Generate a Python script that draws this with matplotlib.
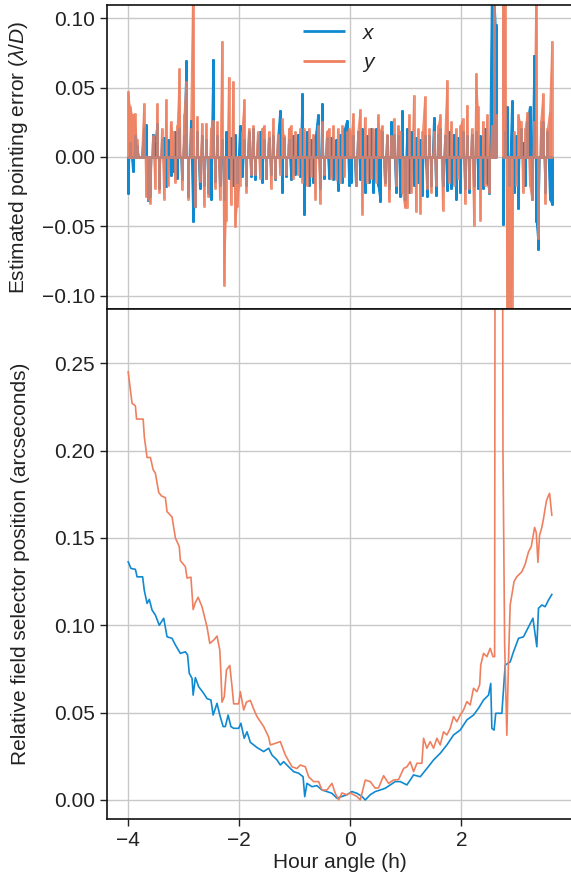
"""Pointing error and field selector position versus hour angle."""

import matplotlib

matplotlib.use("Agg")
import matplotlib.pyplot as plt
import numpy as np

BLUE = "#1089d0"
ORANGE = "#ee8060"

# top panel: estimated pointing error (lambda/D), evenly sampled in hour angle
err_x = [
    -0.026, 0.010, -0.010, 0.015, 0.008, 0.0, 0.0, 0.020, 0.023, -0.031,
    -0.028, 0.016, 0.010, 0.024, -0.022, 0.012, 0.014, -0.021, 0.012, -0.013,
    -0.010, 0.018, -0.015, 0.020, -0.016, 0.015, 0.069, -0.028, 0.026, -0.046,
    -0.035, 0.018, -0.022, 0.015, -0.020, 0.012, -0.025, -0.030, 0.070, -0.017,
    0.015, -0.020, 0.012, -0.030, 0.018, -0.015, 0.014, -0.020, 0.016, -0.018,
    0.022, -0.014, 0.012, -0.020, 0.018, -0.014, 0.020, -0.016, 0.012, 0.018,
    -0.018, 0.012, -0.015, 0.014, -0.012, 0.015, -0.016, 0.012, 0.033, -0.025,
    0.014, -0.014, 0.012, -0.016, 0.015, -0.012, 0.016, -0.014, 0.045, -0.041,
    0.018, -0.020, 0.012, -0.018, 0.015, 0.030, -0.022, 0.038, -0.015, 0.014,
    -0.015, 0.014, -0.016, 0.012, -0.024, 0.016, -0.018, 0.020, 0.026, -0.020,
    -0.018, 0.015, -0.020, 0.018, -0.016, 0.020, -0.025, 0.015, -0.018, 0.020,
    -0.025, 0.020, -0.020, -0.032, 0.018, -0.018, 0.015, -0.022, 0.025, 0.016,
    -0.025, 0.015, -0.028, 0.033, -0.030, 0.020, -0.025, 0.018, -0.020, 0.014,
    -0.018, 0.012, -0.027, 0.015, -0.028, 0.015, -0.020, 0.028, -0.027, 0.016,
    0.020, -0.020, 0.015, -0.024, 0.018, -0.022, 0.016, -0.030, 0.014, -0.025,
    0.018, -0.022, 0.015, -0.025, 0.016, -0.020, 0.018, -0.022, 0.015, -0.022,
    0.020, -0.018, -0.026, 0.130, 0.130, 0.095, np.nan, np.nan, -0.048, 0.018,
    0.036, -0.020, 0.040, -0.025, 0.015, -0.037, 0.020, 0.010, -0.020, 0.025,
    0.036, -0.030, 0.073, -0.046, -0.066, 0.020, 0.025, -0.025, 0.018, -0.030,
    -0.034,
]
err_y = [
    0.047, 0.036, 0.030, 0.031, 0.012, 0.0, 0.0, 0.038, -0.028, -0.030,
    -0.033, 0.015, -0.022, 0.038, -0.025, 0.020, -0.030, 0.041, -0.020, 0.025,
    0.018, -0.018, 0.022, 0.063, -0.023, 0.030, 0.054, -0.030, 0.020, 0.130,
    -0.035, 0.029, -0.017, 0.024, -0.035, 0.024, -0.028, 0.020, 0.026, -0.022,
    0.025, -0.030, 0.083, -0.092, -0.045, 0.057, -0.034, 0.054, -0.050, -0.035,
    -0.020, 0.018, 0.041, -0.025, 0.020, -0.012, 0.022, -0.012, 0.018, -0.015,
    0.020, 0.022, -0.015, 0.018, -0.022, 0.027, -0.015, 0.016, -0.012, 0.027,
    0.015, -0.012, 0.020, 0.022, -0.015, 0.018, -0.012, 0.020, -0.018, 0.020,
    -0.020, 0.020, -0.014, 0.016, -0.030, 0.022, -0.033, 0.025, -0.012, 0.018,
    0.020, -0.015, 0.022, -0.016, 0.020, -0.018, 0.022, -0.014, 0.018, 0.020,
    0.015, 0.031, -0.020, 0.018, 0.034, -0.041, 0.028, -0.018, 0.020, -0.015,
    0.020, -0.018, 0.030, 0.018, 0.022, -0.020, 0.016, -0.032, 0.015, 0.027,
    -0.020, 0.022, 0.018, -0.025, -0.036, -0.036, 0.030, -0.025, 0.044, -0.039,
    0.020, -0.040, 0.018, 0.043, -0.022, 0.020, -0.025, 0.018, -0.020, 0.022,
    0.030, -0.038, 0.015, 0.055, -0.018, 0.025, -0.020, 0.020, -0.015, 0.022,
    0.027, -0.033, 0.037, -0.022, 0.020, -0.049, 0.060, 0.036, -0.045, 0.025,
    -0.020, 0.030, -0.025, 0.022, 0.130, 0.030, np.nan, np.nan, 0.130, 0.130,
    -0.130, -0.130, -0.130, 0.018, -0.020, 0.030, 0.025, -0.025, 0.020, 0.032,
    -0.020, -0.030, 0.025, 0.130, -0.058, 0.025, 0.045, -0.033, 0.020, 0.032,
    0.083,
]

# bottom panel: relative field selector position (arcsec)
ha_x = [
    -4.00, -3.95, -3.87, -3.84, -3.74, -3.71, -3.66, -3.62, -3.57, -3.51,
    -3.44, -3.36, -3.30, -3.21, -3.15, -3.06, -2.97, -2.93, -2.90, -2.85,
    -2.83, -2.79, -2.73, -2.64, -2.58, -2.51, -2.47, -2.40, -2.35, -2.29,
    -2.25, -2.20, -2.15, -2.10, -2.01, -1.97, -1.91, -1.86, -1.80, -1.68,
    -1.56, -1.47, -1.41, -1.32, -1.26, -1.20, -1.11, -1.02, -0.93, -0.85,
    -0.82, -0.78, -0.69, -0.60, -0.51, -0.42, -0.33, -0.24, -0.15, -0.06,
    0.03, 0.12, 0.21, 0.27, 0.36, 0.45, 0.54, 0.63, 0.72, 0.81,
    0.90, 1.02, 1.14, 1.26, 1.38, 1.50, 1.62, 1.74, 1.86, 1.98,
    2.10, 2.22, 2.31, 2.40, 2.49, 2.53, 2.55, 2.59, 2.62, 2.73,
    2.79, 2.88, 2.94, 3.03, 3.12, 3.21, 3.29, 3.36, 3.39, 3.45,
    3.51, 3.57, 3.63,
]
pos_x = [
    0.1363, 0.1325, 0.1320, 0.1277, 0.1277, 0.1200, 0.1125, 0.1148, 0.1087, 0.1058,
    0.1000, 0.1040, 0.0934, 0.0925, 0.0887, 0.0839, 0.0848, 0.0830, 0.0725, 0.0696,
    0.0600, 0.0700, 0.0648, 0.0610, 0.0580, 0.0572, 0.0486, 0.0553, 0.0486, 0.0420,
    0.0420, 0.0486, 0.0420, 0.0410, 0.0410, 0.0439, 0.0353, 0.0390, 0.0330, 0.0300,
    0.0277, 0.0296, 0.0257, 0.0229, 0.0200, 0.0219, 0.0190, 0.0162, 0.0153, 0.0133,
    0.0019, 0.0095, 0.0076, 0.0082, 0.0057, 0.0048, 0.0038, 0.0010, 0.0020, 0.0030,
    0.0048, 0.0038, 0.0020, 0.0000, 0.0030, 0.0048, 0.0057, 0.0067, 0.0086, 0.0105,
    0.0105, 0.0086, 0.0143, 0.0133, 0.0180, 0.0229, 0.0267, 0.0315, 0.0372, 0.0400,
    0.0458, 0.0486, 0.0525, 0.0572, 0.0600, 0.0667, 0.0410, 0.0400, 0.0496, 0.0496,
    0.0772, 0.0790, 0.0848, 0.0925, 0.0934, 0.0990, 0.1040, 0.0877, 0.1097, 0.1116,
    0.1106, 0.1144, 0.1176,
]
ha_y = [
    -4.00, -3.93, -3.87, -3.85, -3.73, -3.71, -3.66, -3.60, -3.55, -3.51,
    -3.45, -3.40, -3.33, -3.30, -3.21, -3.15, -3.08, -3.06, -2.97, -2.94,
    -2.87, -2.83, -2.79, -2.74, -2.67, -2.58, -2.53, -2.46, -2.40, -2.35,
    -2.33, -2.31, -2.27, -2.23, -2.17, -2.13, -2.10, -2.01, -1.98, -1.92,
    -1.87, -1.80, -1.74, -1.68, -1.56, -1.47, -1.44, -1.35, -1.26, -1.17,
    -1.05, -0.96, -0.90, -0.81, -0.75, -0.66, -0.57, -0.51, -0.42, -0.33,
    -0.27, -0.21, -0.15, -0.06, 0.00, 0.12, 0.18, 0.27, 0.36, 0.45,
    0.51, 0.60, 0.69, 0.78, 0.87, 0.96, 1.02, 1.08, 1.14, 1.20,
    1.29, 1.32, 1.38, 1.44, 1.50, 1.56, 1.62, 1.68, 1.74, 1.80,
    1.86, 1.92, 1.98, 2.04, 2.10, 2.16, 2.22, 2.28, 2.33, 2.35,
    2.40, 2.46, 2.52, 2.57, 2.60, 2.61, 2.74, 2.75, 2.78, 2.82,
    2.85, 2.88, 2.95, 3.00, 3.09, 3.15, 3.21, 3.26, 3.32, 3.35,
    3.38, 3.41, 3.45, 3.48, 3.53, 3.56, 3.59, 3.61, 3.63,
]
pos_y = [
    0.2450, 0.2270, 0.2256, 0.2180, 0.2180, 0.2080, 0.1960, 0.1960, 0.1890, 0.1870,
    0.1760, 0.1740, 0.1730, 0.1650, 0.1620, 0.1500, 0.1450, 0.1370, 0.1335, 0.1270,
    0.1275, 0.1090, 0.1130, 0.1160, 0.1106, 0.0990, 0.0896, 0.0915, 0.0938, 0.0858,
    0.0725, 0.0560, 0.0590, 0.0744, 0.0770, 0.0650, 0.0550, 0.0550, 0.0620, 0.0515,
    0.0560, 0.0570, 0.0520, 0.0477, 0.0420, 0.0360, 0.0315, 0.0324, 0.0334, 0.0257,
    0.0190, 0.0180, 0.0200, 0.0190, 0.0133, 0.0105, 0.0105, 0.0057, 0.0057, 0.0095,
    0.0038, 0.0000, 0.0040, 0.0030, 0.0040, 0.0020, 0.0000, 0.0114, 0.0105, 0.0067,
    0.0070, 0.0139, 0.0095, 0.0114, 0.0117, 0.0180, 0.0190, 0.0219, 0.0162, 0.0210,
    0.0210, 0.0353, 0.0296, 0.0334, 0.0296, 0.0353, 0.0315, 0.0390, 0.0372, 0.0410,
    0.0477, 0.0448, 0.0486, 0.0515, 0.0563, 0.0544, 0.0639, 0.0620, 0.0658, 0.0772,
    0.0839, 0.0820, 0.0868, 0.0820, 0.0820, 0.4000, 0.4000, 0.2000, 0.0900, 0.0370,
    0.0800, 0.1116, 0.1250, 0.1278, 0.1306, 0.1350, 0.1420, 0.1450, 0.1560, 0.1530,
    0.1360, 0.1516, 0.1560, 0.1610, 0.1707, 0.1735, 0.1755, 0.1690, 0.1630,
]

ha_top = np.linspace(ha_x[0], ha_x[-1], len(err_x))

plt.rcParams["font.family"] = ["Liberation Sans", "DejaVu Sans"]
plt.rcParams["mathtext.fontset"] = "custom"
plt.rcParams["mathtext.it"] = "Liberation Sans:italic"
plt.rcParams["mathtext.rm"] = "Liberation Sans"
plt.rcParams["font.size"] = 15
plt.rcParams["text.color"] = "#222222"
plt.rcParams["axes.labelcolor"] = "#222222"


def stems(t, v):
    # vertical strokes from zero joined along the zero line
    v = np.asarray(v, dtype=float)
    z = np.where(np.isnan(v), np.nan, 0.0)
    return np.repeat(t, 3), np.column_stack([z, v, z]).ravel()


fig = plt.figure(figsize=(5.71, 8.81), dpi=100)
ax1 = fig.add_axes([107 / 571, 572 / 881, 466 / 571, 304 / 881])
ax2 = fig.add_axes([107 / 571, 62 / 881, 466 / 571, 510 / 881], sharex=ax1)

for vals, col, a, lab in ((err_x, BLUE, 1.0, "$x$"), (err_y, ORANGE, 0.8, "$y$")):
    v = np.asarray(vals, dtype=float)
    ax1.fill_between(ha_top, 0, v, color=col, alpha=a, lw=0.8, ec=col)
    t, s = stems(ha_top, v)
    ax1.plot(t, s, color=col, lw=2.0, alpha=a, label=lab,
             solid_capstyle="butt")
ax1.set_ylim(-0.1094, 0.1094)
ax1.set_yticks([-0.10, -0.05, 0.0, 0.05, 0.10])
ax1.set_ylabel(r"Estimated pointing error ($\lambda/D$)")
ax1.tick_params(axis="x", bottom=False, labelbottom=False)
leg = ax1.legend(loc="upper center", frameon=False, handlelength=2.0)
for line in leg.get_lines():
    line.set_alpha(1)
    line.set_linewidth(2)

ax2.plot(ha_x, pos_x, color=BLUE, lw=1.2)
ax2.plot(ha_y, pos_y, color=ORANGE, lw=1.2)
ax2.set_ylim(-0.0109, 0.281)
ax2.set_yticks([0.0, 0.05, 0.10, 0.15, 0.20, 0.25])
ax2.set_xticks([-4, -2, 0, 2])
ax2.set_ylabel("Relative field selector position (arcseconds)")
ax2.set_xlabel("Hour angle (h)", labelpad=2)

for ax in (ax1, ax2):
    ax.grid(True, color="#c8c8c8", lw=1)
    ax.set_axisbelow(True)
    ax.tick_params(direction="out", length=5, width=1, colors="#222222",
                   labelsize=15)
    for sp in ax.spines.values():
        sp.set_linewidth(1.2)
        sp.set_color("#111111")
    ax.yaxis.set_label_coords(-0.165, 0.5)

fig.savefig("out.png", dpi=100)
